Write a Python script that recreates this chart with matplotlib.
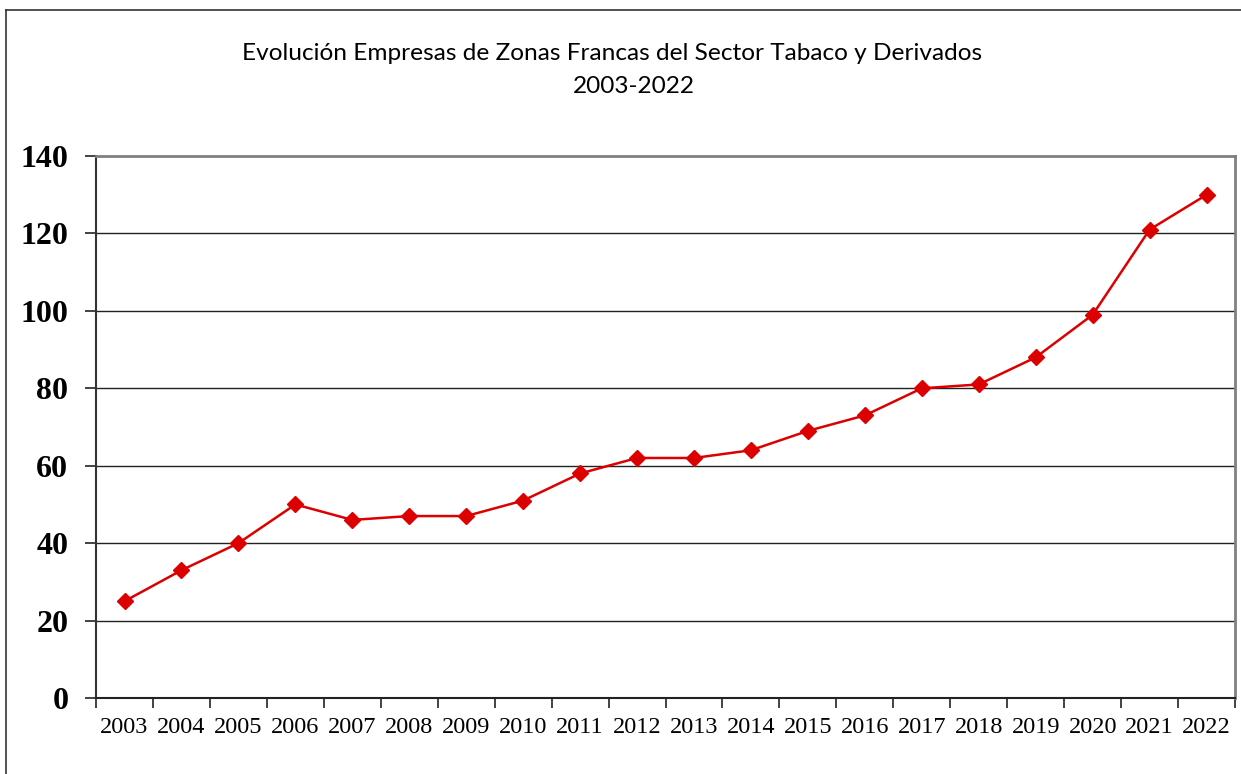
import matplotlib.pyplot as plt
from matplotlib.lines import Line2D

years = [str(y) for y in range(2003, 2023)]
empresas = [25, 33, 40, 50, 46, 47, 47, 51, 58, 62, 62, 64, 69, 73, 80, 81, 88, 99, 121, 130]
y_ticks = [0, 20, 40, 60, 80, 100, 120, 140]

fig = plt.figure(figsize=(12.41, 7.74), dpi=100)
ax = fig.add_axes([0.0774, 0.0982, 0.9178, 0.7002])

#outer chart frame (left and top edges only visible)
fig.add_artist(Line2D([0.005, 0.005], [0, 0.987], transform=fig.transFigure, color='#333333', lw=1.2))
fig.add_artist(Line2D([0.005, 1.0], [0.987, 0.987], transform=fig.transFigure, color='#333333', lw=1.2))

x = list(range(len(years)))
ax.plot(x, empresas, color='#DD0000', lw=1.8, marker='D', markersize=8,
        markerfacecolor='#DD0000', markeredgecolor='#DD0000', zorder=3)

ax.set_xlim(-0.5, len(years) - 0.5)
ax.set_ylim(0, 140)
ax.set_yticks(y_ticks)
ax.set_yticklabels([str(v) for v in y_ticks], fontfamily='Liberation Serif',
                   fontweight='bold', fontsize=23)
ax.set_xticks(x)
ax.set_xticklabels(years, fontfamily='Liberation Serif', fontsize=17.5)
ax.tick_params(axis='x', length=0, pad=14)
ax.set_xticks([i - 0.5 for i in range(len(years) + 1)], minor=True)
ax.tick_params(axis='x', which='minor', length=7, width=1.2, color='#222222')
ax.tick_params(axis='y', length=8, width=1.2, color='#222222', pad=12)

for v in y_ticks[1:-1]:
    ax.axhline(v, color='#222222', lw=1.0, zorder=1)

ax.spines['left'].set_color('#333333')
ax.spines['bottom'].set_color('#222222')
ax.spines['left'].set_linewidth(1.5)
ax.spines['bottom'].set_linewidth(1.5)
ax.spines['top'].set_color('#808080')
ax.spines['right'].set_color('#808080')
ax.spines['top'].set_linewidth(2)
ax.spines['right'].set_linewidth(2)

fig.text(0.493, 0.931, "Evolución Empresas de Zonas Francas del Sector Tabaco y Derivados",
         ha='center', va='center', fontfamily='Lato', fontsize=17.6)
fig.text(0.511, 0.888, "2003-2022", ha='center', va='center', fontfamily='Lato', fontsize=17.6)

fig.savefig('out.png', dpi=100)
